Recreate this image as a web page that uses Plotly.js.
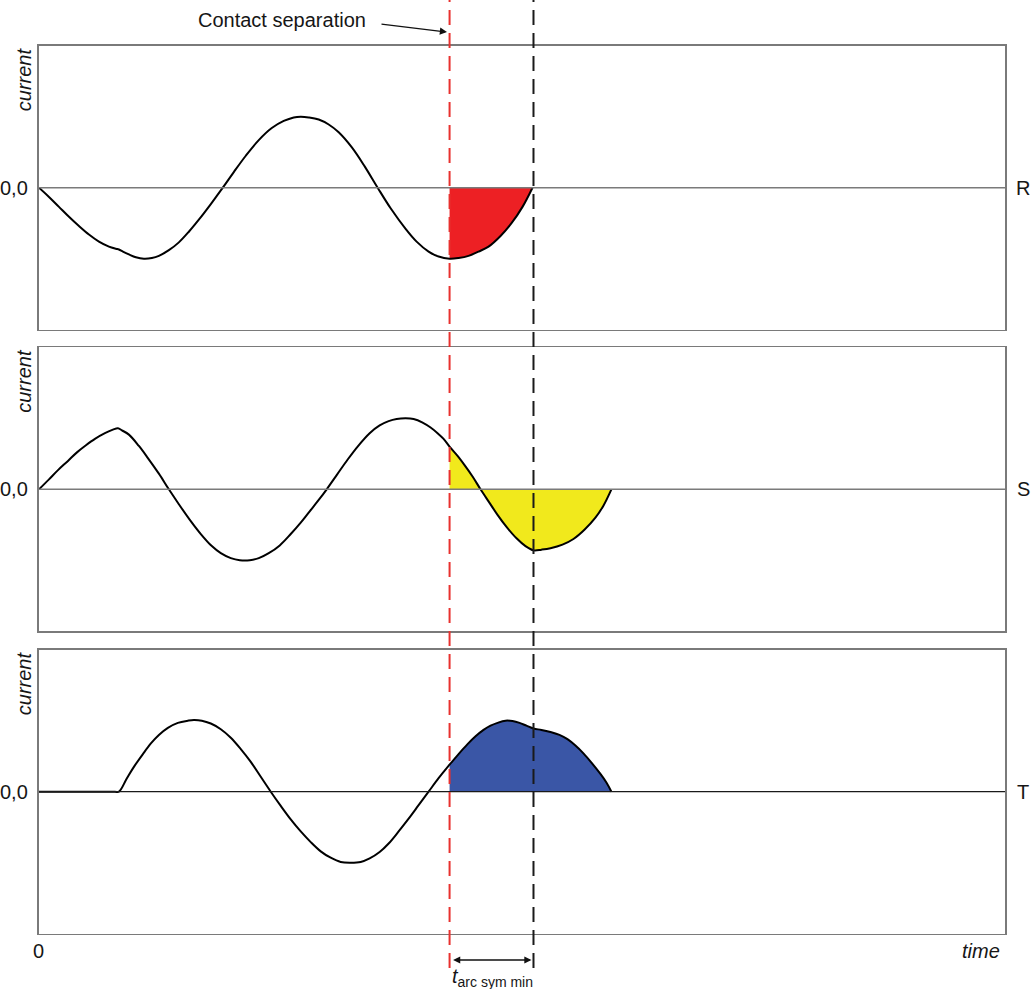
<!DOCTYPE html>
<html>
<head>
<meta charset="utf-8">
<script src="https://cdn.plot.ly/plotly-3.0.1.min.js"></script>
<style>
  html, body { margin: 0; padding: 0; background: #ffffff; }
  #chart { width: 1036px; height: 989px; }
</style>
</head>
<body>
<div id="chart"></div>
<script>
// Three-phase currents around contact separation (time in arbitrary units, current in units of peak)
const phaseNames = ['R', 'S', 'T'];

const rTime    = [0, 10, 20, 30, 40, 50, 60, 70, 77, 80, 84, 90, 97, 105, 113, 120, 130, 140, 150, 160, 172, 184, 195, 207, 220, 233, 245, 255, 262, 270, 280, 290, 300, 313, 326, 339, 352, 367, 378, 390, 400, 411, 420, 430, 440, 450, 462, 473, 484, 494];
const rCurrent = [0, -0.13, -0.27, -0.41, -0.54, -0.66, -0.76, -0.83, -0.86, -0.87, -0.9, -0.94, -0.98, -1.0, -0.99, -0.96, -0.88, -0.77, -0.62, -0.45, -0.23, 0, 0.22, 0.45, 0.67, 0.84, 0.94, 0.99, 1.0, 0.99, 0.96, 0.89, 0.78, 0.57, 0.3, 0, -0.29, -0.58, -0.76, -0.9, -0.97, -1.0, -0.99, -0.96, -0.9, -0.83, -0.68, -0.5, -0.27, 0];

const sTime    = [0, 10, 19, 29, 38, 47, 56, 66, 74, 79, 83, 90, 100, 109, 120, 130, 140, 151, 162, 173, 182, 192, 201, 211, 220, 230, 241, 252, 262, 271, 280, 288, 298, 309, 320, 331, 341, 350, 358, 367, 375, 384, 392, 399, 405, 411, 419, 426, 434, 442, 450, 459, 468, 478, 487, 495, 503, 512, 524, 535, 546, 557, 565, 573];
const sCurrent = [0, 0.14, 0.27, 0.4, 0.52, 0.62, 0.71, 0.79, 0.84, 0.86, 0.83, 0.77, 0.61, 0.44, 0.22, 0, -0.21, -0.43, -0.63, -0.8, -0.9, -0.97, -1.0, -1.0, -0.97, -0.9, -0.79, -0.63, -0.47, -0.31, -0.15, 0, 0.2, 0.42, 0.62, 0.79, 0.9, 0.96, 0.99, 1.0, 0.99, 0.94, 0.87, 0.79, 0.71, 0.6, 0.47, 0.34, 0.18, 0, -0.17, -0.36, -0.53, -0.69, -0.8, -0.86, -0.85, -0.83, -0.78, -0.7, -0.57, -0.4, -0.23, 0];

const tTime    = [0, 40, 76, 80, 88, 95, 104, 112, 120, 129, 139, 149, 155, 163, 172, 182, 192, 202, 212, 222, 232, 242, 252, 262, 272, 282, 292, 302, 312, 322, 331, 341, 350, 360, 370, 380, 390, 400, 411, 420, 429, 437, 445, 452, 459, 467, 474, 481, 488, 495, 503, 512, 521, 529, 537, 545, 553, 562, 568, 573];
const tCurrent = [0, 0, 0, 0, 0.19, 0.35, 0.53, 0.68, 0.8, 0.9, 0.97, 1.0, 1.01, 1.0, 0.96, 0.88, 0.76, 0.6, 0.42, 0.21, 0, -0.2, -0.39, -0.56, -0.71, -0.84, -0.93, -0.99, -1.0, -0.99, -0.94, -0.85, -0.73, -0.56, -0.38, -0.19, 0, 0.19, 0.38, 0.53, 0.67, 0.78, 0.87, 0.93, 0.97, 1.0, 0.995, 0.97, 0.93, 0.89, 0.87, 0.84, 0.8, 0.74, 0.65, 0.54, 0.41, 0.25, 0.13, 0];

// Instant of contact separation and end of minimum symmetrical arcing time
const T_SEP = 411;
const T_ARC = 495;

const phases = [
  { t: rTime, i: rCurrent, fill: '#ED2024' },
  { t: sTime, i: sCurrent, fill: '#F1E91C' },
  { t: tTime, i: tCurrent, fill: '#3A56A6' }
];

const W = 1036, H = 989;
const FONT = 'Liberation Sans, Arial, sans-serif';
const TEXT = '#161616';
const FRAME = '#7a7a7a';

const xDom = [39 / W, 1005 / W];
const yDoms = [
  [1 - 329.7 / H, 1 - 45.7 / H],
  [1 - 631.3 / H, 1 - 347.3 / H],
  [1 - 933.7 / H, 1 - 649.7 / H]
];

const traces = [];
const layout = {
  width: W, height: H,
  margin: { l: 0, r: 0, t: 0, b: 0 },
  paper_bgcolor: '#ffffff',
  plot_bgcolor: '#ffffff',
  showlegend: false,
  font: { family: FONT, color: TEXT, size: 20 },
  shapes: [],
  annotations: []
};

phases.forEach((p, k) => {
  const xa = k === 0 ? 'x' : 'x' + (k + 1);
  const ya = k === 0 ? 'y' : 'y' + (k + 1);
  const xKey = k === 0 ? 'xaxis' : 'xaxis' + (k + 1);
  const yKey = k === 0 ? 'yaxis' : 'yaxis' + (k + 1);

  // arcing region after contact separation
  const fx = [], fy = [];
  p.t.forEach((t, j) => { if (t >= T_SEP) { fx.push(t); fy.push(p.i[j]); } });
  traces.push({
    x: fx, y: fy, xaxis: xa, yaxis: ya,
    type: 'scatter', mode: 'lines',
    line: { width: 0, shape: 'spline', smoothing: 1 },
    fill: 'tozeroy', fillcolor: p.fill,
    hoverinfo: 'skip'
  });
  // current waveform
  traces.push({
    x: p.t, y: p.i, xaxis: xa, yaxis: ya,
    type: 'scatter', mode: 'lines',
    line: { color: '#000000', width: 2, shape: 'spline', smoothing: 1 },
    hoverinfo: 'skip'
  });

  layout[xKey] = {
    domain: xDom, range: [0, 967], anchor: ya,
    showgrid: false, zeroline: false, showticklabels: false, ticks: '',
    showline: true, mirror: true, linecolor: FRAME, linewidth: 1.6,
    fixedrange: true
  };
  layout[yKey] = {
    domain: yDoms[k], range: [-2, 2], anchor: xa,
    showgrid: false, zeroline: false, showticklabels: false, ticks: '',
    showline: true, mirror: true, linecolor: FRAME, linewidth: 1.6,
    fixedrange: true
  };

  // zero line drawn above the filled areas
  layout.shapes.push({
    type: 'line', layer: 'above',
    xref: xa + ' domain', x0: 0, x1: 1,
    yref: ya, y0: 0, y1: 0,
    line: { color: k === 2 ? '#1a1a1a' : '#7a7a7a', width: k === 2 ? 1.2 : 1.5 }
  });

  layout.annotations.push({
    xref: 'paper', yref: ya, x: 30 / W, y: 0,
    xanchor: 'right', yanchor: 'middle',
    text: '0,0', showarrow: false, font: { size: 20 }
  });
  layout.annotations.push({
    xref: 'paper', yref: ya, x: 1023 / W, y: 0,
    xanchor: 'center', yanchor: 'middle',
    text: phaseNames[k], showarrow: false, font: { size: 20 }
  });
  layout.annotations.push({
    xref: 'paper', yref: ya + ' domain', x: 24 / W, y: 1 - 33.5 / 284,
    xanchor: 'center', yanchor: 'middle', textangle: -90,
    text: '<i>current</i>', showarrow: false, font: { size: 20 }
  });
});

// dashed markers for contact separation and minimum arc end
const yLow = 1 - 968 / H;
layout.shapes.push({
  type: 'line', layer: 'above', xref: 'x', x0: T_SEP, x1: T_SEP,
  yref: 'paper', y0: yLow, y1: 1,
  line: { color: '#E8312E', width: 2, dash: '15px,8px' }
});
layout.shapes.push({
  type: 'line', layer: 'above', xref: 'x', x0: T_ARC, x1: T_ARC,
  yref: 'paper', y0: yLow, y1: 1,
  line: { color: '#1a1a1a', width: 2, dash: '15px,8px' }
});

layout.annotations.push(
  {
    xref: 'paper', yref: 'paper', x: 282 / W, y: 1 - 20 / H,
    xanchor: 'center', yanchor: 'middle',
    text: 'Contact separation', showarrow: false, font: { size: 20 }
  },
  {
    xref: 'paper', yref: 'paper', x: 447 / W, y: 1 - 32 / H,
    text: '', showarrow: true, ax: -67, ay: -8,
    arrowhead: 2, arrowsize: 1.1, arrowwidth: 1.3, arrowcolor: '#111', standoff: 0
  },
  {
    xref: 'x3', yref: 'paper', x: T_ARC - 2, y: 1 - 960 / H,
    text: '', showarrow: true, axref: 'x3', ax: T_SEP + 2, ayref: 'pixel', ay: 0,
    arrowside: 'end+start', arrowhead: 2, startarrowhead: 2,
    arrowsize: 1.1, startarrowsize: 1.1, arrowwidth: 1.3, arrowcolor: '#111',
    standoff: 0, startstandoff: 0
  },
  {
    xref: 'paper', yref: 'paper', x: 492 / W, y: 1 - 977 / H,
    xanchor: 'center', yanchor: 'middle',
    text: '<i>t</i><sub>arc sym min</sub>', showarrow: false, font: { size: 20 }
  },
  {
    xref: 'paper', yref: 'paper', x: 38 / W, y: 1 - 951 / H,
    xanchor: 'center', yanchor: 'middle',
    text: '0', showarrow: false, font: { size: 20 }
  },
  {
    xref: 'paper', yref: 'paper', x: 981 / W, y: 1 - 951 / H,
    xanchor: 'center', yanchor: 'middle',
    text: '<i>time</i>', showarrow: false, font: { size: 20 }
  }
);

Plotly.newPlot('chart', traces, layout, { displayModeBar: false, staticPlot: true });
</script>
</body>
</html>
